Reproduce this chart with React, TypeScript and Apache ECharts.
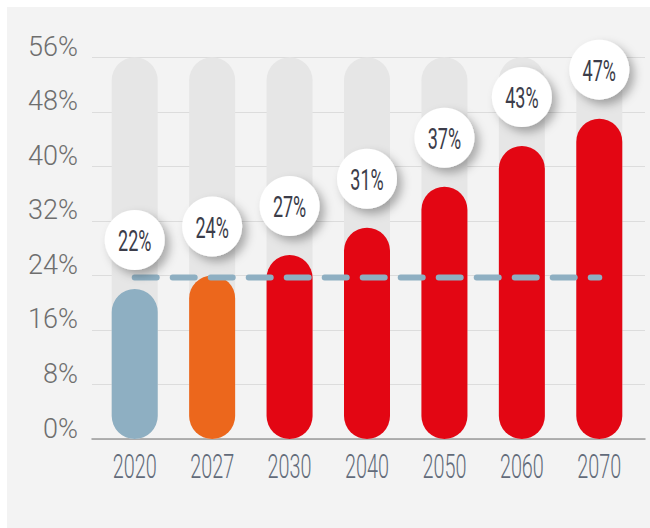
import React, { useEffect, useRef } from "react";
import * as echarts from "echarts";

const categories = ["2020", "2027", "2030", "2040", "2050", "2060", "2070"];
const shares = [22, 24, 27, 31, 37, 43, 47];
const barColors = ["#8eafc2", "#ec671c", "#e30613", "#e30613", "#e30613", "#e30613", "#e30613"];
const referenceLine = [23.7, 23.7, 23.7, 23.7, 23.7, 23.7, 23.7];
const yMin = 0;
const yMax = 56;
const yStep = 8;

const sansFont = "Roboto, 'Noto Sans', sans-serif";

export default function App() {
  const ref = useRef<HTMLDivElement>(null);
  useEffect(() => {
    if (!ref.current) return;
    const chart = echarts.init(ref.current, null, { renderer: "svg" });
    const top = 57.3;
    const bottom = 528 - 439;
    chart.setOption({
      animation: false,
      backgroundColor: "#ffffff",
      graphic: [
        {
          type: "rect",
          z: -10,
          shape: { x: 7, y: 7, width: 643, height: 521 },
          style: { fill: "#f3f3f3" },
          silent: true,
        },
      ],
      grid: [
        { left: 92, right: 5, top, bottom },
        { left: 96, right: 12, top, bottom },
      ],
      xAxis: [
        {
          gridIndex: 0,
          type: "value",
          min: 0,
          max: 1,
          axisLine: { show: true, onZero: false, lineStyle: { color: "#9a9a9a", width: 1.5 } },
          axisTick: { show: false },
          axisLabel: { show: false },
          splitLine: { show: false },
        },
        {
          gridIndex: 1,
          type: "category",
          data: categories,
          axisLine: { show: false },
          axisTick: { show: false },
          axisLabel: { show: false },
        },
      ],
      yAxis: [
        {
          gridIndex: 0,
          type: "value",
          min: yMin,
          max: yMax,
          interval: yStep,
          axisLine: { show: false },
          axisTick: { show: false },
          axisLabel: {
            formatter: "{value}%",
            margin: 14,
            fontFamily: sansFont,
            fontWeight: 300,
            fontSize: 27,
            color: "#6e6e6e",
            verticalAlign: "bottom",
            lineHeight: 27,
            padding: [0, 0, -3, 0],
          },
          splitLine: { lineStyle: { color: "#dcdcdc", width: 1 } },
        },
        {
          gridIndex: 1,
          type: "value",
          min: yMin,
          max: yMax,
          interval: yStep,
          show: false,
          splitLine: { show: false },
        },
      ],
      series: [
        {
          type: "bar",
          xAxisIndex: 1,
          yAxisIndex: 1,
          data: shares.map((v, i) => ({ value: v, itemStyle: { color: barColors[i] } })),
          barWidth: 46,
          showBackground: true,
          backgroundStyle: { color: "#e6e6e6", borderRadius: 23 },
          itemStyle: { borderRadius: 23 },
          z: 2,
        },
        {
          type: "line",
          xAxisIndex: 1,
          yAxisIndex: 1,
          data: referenceLine,
          symbol: "none",
          z: 5,
          lineStyle: { color: "#8eafc2", width: 6, type: [22, 16], cap: "round" },
        },
        {
          type: "custom",
          xAxisIndex: 1,
          yAxisIndex: 1,
          z: 10,
          clip: false,
          data: shares.map((v, i) => [i, v]),
          renderItem: (params: any, api: any) => {
            const p = api.coord([api.value(0), api.value(1)]);
            const cx = p[0];
            const cy = p[1] - 49;
            return {
              type: "group",
              children: [
                {
                  type: "circle",
                  shape: { cx, cy, r: 30 },
                  style: {
                    fill: "#ffffff",
                    shadowColor: "rgba(0,0,0,0.3)",
                    shadowBlur: 10,
                    shadowOffsetX: 5,
                    shadowOffsetY: 5,
                  },
                },
                {
                  type: "text",
                  x: cx,
                  y: cy + 1,
                  scaleX: 0.6,
                  style: {
                    text: api.value(1) + "%",
                    x: 0,
                    y: 0,
                    align: "center",
                    verticalAlign: "middle",
                    fontFamily: sansFont,
                    fontSize: 30,
                    fontWeight: 400,
                    fill: "#3c3d4a",
                  },
                },
              ],
            };
          },
        },
        {
          type: "custom",
          xAxisIndex: 1,
          yAxisIndex: 1,
          z: 10,
          clip: false,
          data: categories.map((_, i) => [i, yMin]),
          renderItem: (params: any, api: any) => {
            const p = api.coord([api.value(0), api.value(1)]);
            return {
              type: "text",
              x: p[0],
              y: p[1] + 28,
              scaleX: 0.6,
              style: {
                text: categories[params.dataIndex],
                x: 0,
                y: 0,
                align: "center",
                verticalAlign: "middle",
                fontFamily: sansFont,
                fontSize: 33,
                fontWeight: 300,
                fill: "#626b7a",
              },
            };
          },
        },
      ],
    });
    return () => chart.dispose();
  }, []);
  return (
    <div
      ref={ref}
      style={{ position: "absolute", left: 0, top: 0, width: 650, height: 528 }}
    />
  );
}
